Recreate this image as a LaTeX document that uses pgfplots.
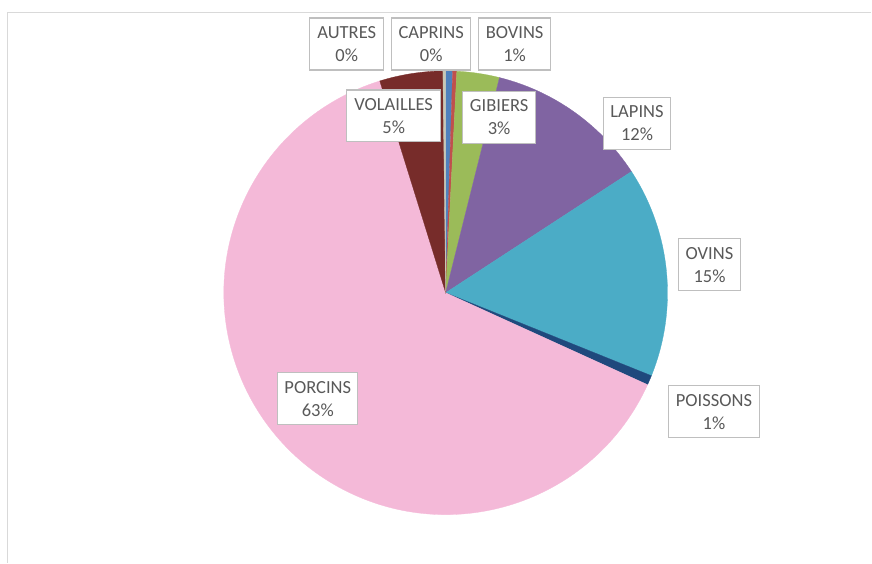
\documentclass[border=0pt]{standalone}
\usepackage{pgfplots}
\usepackage{pgfplotstable}
\pgfplotsset{compat=1.18}
\usepackage{fontspec}
\setmainfont{Carlito}

\definecolor{c0}{HTML}{4F81BD}
\definecolor{c1}{HTML}{C0504D}
\definecolor{c2}{HTML}{9BBB59}
\definecolor{c3}{HTML}{8064A2}
\definecolor{c4}{HTML}{4BACC6}
\definecolor{c5}{HTML}{1F497D}
\definecolor{c6}{HTML}{F4B9D8}
\definecolor{c7}{HTML}{772C2A}
\definecolor{c8}{HTML}{C8C8B4}
\definecolor{txtgray}{HTML}{595959}
\definecolor{boxgray}{HTML}{BFBFBF}
\definecolor{framegray}{HTML}{D9D9D9}

\pgfplotstableread{
name value
BOVINS 0.5
CAPRINS 0.3
GIBIERS 3.1
LAPINS 11.9
OVINS 15.3
POISSONS 0.7
PORCINS 63.4
VOLAILLES 4.6
AUTRES 0.2
}\piedata

\begin{document}
\begin{tikzpicture}[
  lbl/.style={draw=boxgray, line width=1.2bp, fill=white, text=txtgray,
    align=center, inner sep=0pt, minimum height=52bp,
    font=\fontsize{18.5bp}{23bp}\selectfont}]
\def\cum{0}
\foreach \i in {0,...,8}{
  \pgfplotstablegetelem{\i}{value}\of\piedata
  \pgfmathsetmacro\sa{90-3.6*\cum}
  \pgfmathsetmacro\newcum{\cum+\pgfplotsretval}
  \pgfmathsetmacro\ea{90-3.6*\newcum}
  \expandafter\xdef\csname sa\i\endcsname{\sa}
  \expandafter\xdef\csname ea\i\endcsname{\ea}
  \xdef\cum{\newcum}
}
\begin{axis}[hide axis, scale only axis, width=872bp, height=563bp,
  xmin=0, xmax=872, ymin=0, ymax=563, clip=false]
\path (axis cs:0,0) rectangle (axis cs:872,563);
\draw[framegray, line width=1.3bp] (axis cs:7.5,0) -- (axis cs:7.5,550.5) -- (axis cs:872,550.5);
\pgfplotsinvokeforeach{0,...,8}{
  \filldraw[fill=c#1, draw=c#1, line width=0.3bp] (axis cs:446,270) -- ++(\csname sa#1\endcsname:222bp)
    arc[start angle=\csname sa#1\endcsname, end angle=\csname ea#1\endcsname, radius=222bp] -- cycle;
}
\node[lbl, minimum width=74bp] at (axis cs:347,519) {AUTRES\\0\%};
\node[lbl, minimum width=79bp] at (axis cs:431.5,519) {CAPRINS\\0\%};
\node[lbl, minimum width=72bp] at (axis cs:515,519) {BOVINS\\1\%};
\node[lbl, minimum width=73bp] at (axis cs:499.5,445.5) {GIBIERS\\3\%};
\node[lbl, minimum width=94bp] at (axis cs:394,447) {VOLAILLES\\5\%};
\node[lbl, minimum width=67bp] at (axis cs:637.5,439.5) {LAPINS\\12\%};
\node[lbl, minimum width=62bp] at (axis cs:710,298) {OVINS\\15\%};
\node[lbl, minimum width=91bp] at (axis cs:714.5,151) {POISSONS\\1\%};
\node[lbl, minimum width=80bp] at (axis cs:318,164) {PORCINS\\63\%};
\end{axis}
\end{tikzpicture}
\end{document}
